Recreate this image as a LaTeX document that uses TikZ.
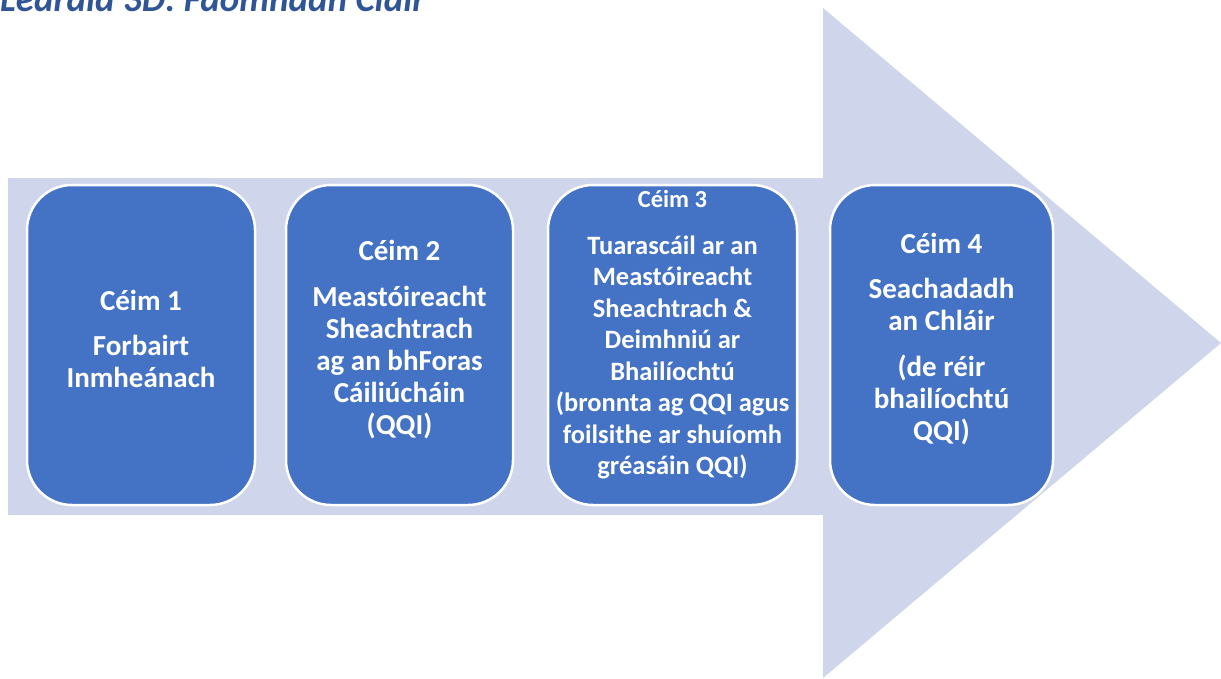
\documentclass[tikz,border=0pt]{standalone}
\usepackage{fontspec}
\setmainfont{Carlito}
\usepackage{tikz}

\definecolor{arrowfill}{HTML}{CFD5EA}
\definecolor{boxfill}{HTML}{4472C4}
\definecolor{titleblue}{HTML}{2F5597}

\tikzset{
  stepbox/.style={draw=white, line width=2.5pt, fill=boxfill, rounded corners=45pt},
  steptext/.style={text=white, align=center, font=\bfseries\fontsize{29}{32}\selectfont},
}

\begin{document}
\begin{tikzpicture}[x=1pt, y=-1pt]

    \useasboundingbox (0,0) rectangle (1221,678);
    \clip (0,0) rectangle (1221,678);

    % Title (cut at the top)
    \node[anchor=base west, inner sep=0, text=titleblue, font=\bfseries\itshape\fontsize{37}{44}\selectfont] (title) at (0,11) {Léaráid 3D: Faomhadh Cláir};

    % Big arrow
    \fill[arrowfill] (8,178) -- (823,178) -- (823,8) -- (1221,343) -- (823,678) -- (823,515) -- (8,515) -- cycle;

    % Steps
    \draw[stepbox] (27,185) rectangle (255,505) coordinate[midway] (c1);
    \draw[stepbox] (286,185) rectangle (513,505) coordinate[midway] (c2);
    \draw[stepbox] (548,185) rectangle (797,505) coordinate[midway] (c3);
    \draw[stepbox] (830,185) rectangle (1053,505) coordinate[midway] (c4);

    \node[steptext] (t1) at ([yshift=6pt]c1) {Céim 1\\[13pt] Forbairt\\ Inmheánach};
    \node[steptext] (t2) at ([yshift=5pt]c2) {Céim 2\\[14pt] Meastóireacht\\ Sheachtrach\\ ag an bhForas\\ Cáiliúcháin\\ (QQI)};
    \node[steptext, font=\bfseries\fontsize{26.5}{31.5}\selectfont] (t3) at ([yshift=10pt]c3)
      {{\fontsize{24.5}{28}\selectfont Céim 3}\\[15pt] Tuarascáil ar an\\ Meastóireacht\\ Sheachtrach \&\\ Deimhniú ar\\ Bhailíochtú\\ (bronnta ag QQI agus\\ foilsithe ar shuíomh\\ gréasáin QQI)};
    \node[steptext] (t4) at ([yshift=6pt]c4) {Céim 4\\[13pt] Seachadadh\\ an Chláir\\[14pt] (de réir\\ bhailíochtú\\ QQI)};

\end{tikzpicture}
\end{document}
